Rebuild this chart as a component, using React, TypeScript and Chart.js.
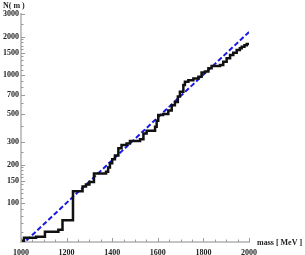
import React, { useEffect, useRef } from "react";
import { Chart, registerables } from "chart.js";

Chart.register(...registerables);

// Step curve: mass where a new level starts, and the cumulative count N(m)
const stepMass = [
  1000, 1013, 1066, 1105, 1164, 1182, 1228, 1270, 1285, 1300, 1320, 1373, 1382, 1390, 1400,
  1412, 1427, 1441, 1463, 1478, 1522, 1537, 1551, 1588, 1595, 1602, 1623, 1646, 1661, 1675,
  1688, 1697, 1712, 1719, 1734, 1756, 1778, 1792, 1807, 1822, 1836, 1873, 1887, 1902, 1917,
  1931, 1946, 1960, 1968, 1980, 1990, 2002,
];
const stepCount = [
  50.8, 53.6, 54.6, 59.7, 62, 73.6, 124, 135, 140, 146, 170, 176, 190, 205, 220,
  236, 268, 284, 292, 305, 315, 350, 367, 395, 440, 487, 496, 530, 582, 617,
  680, 742, 836, 886, 912, 940, 970, 1046, 1065, 1131, 1175, 1200, 1270, 1353, 1433,
  1493, 1570, 1620, 1667, 1710, 1751, 1770,
];

// Exponential fit (straight on the log axis)
const fitMass = [1000, 2000];
const fitCount = [46.6, 2170];

const xTickValues = [1000, 1200, 1400, 1600, 1800, 2000];
const yTickValues = [100, 150, 200, 300, 500, 700, 1000, 1500, 2000, 3000];
const yMinorValues = [
  60, 70, 80, 90, 110, 120, 130, 140, 160, 170, 180, 190, 250, 400, 600, 800, 900,
  1100, 1200, 1300, 1400, 1600, 1700, 1800, 1900, 2500,
];

const FONT = "'Liberation Serif', 'Times New Roman', serif";

export default function App() {
  const ref = useRef<HTMLCanvasElement | null>(null);

  useEffect(() => {
    document.body.style.margin = "0";
    const canvas = ref.current;
    if (!canvas) return;

    const insideTicks = {
      id: "insideTicks",
      afterDatasetsDraw(chart: any) {
        const ctx = chart.ctx;
        const x = chart.scales.x;
        const y = chart.scales.y;
        const area = chart.chartArea;
        ctx.save();
        ctx.strokeStyle = "#9a9a9a";
        ctx.lineWidth = 1;
        for (let m = 1000; m <= 2000; m += 50) {
          const px = Math.round(x.getPixelForValue(m)) + 0.5;
          const major = m % 200 === 0;
          const len = major ? 4 : 2.5;
          ctx.beginPath();
          ctx.moveTo(px, area.bottom);
          ctx.lineTo(px, area.bottom - len);
          ctx.stroke();
        }
        const drawY = (v: number, len: number) => {
          const py = Math.round(y.getPixelForValue(v)) + 0.5;
          ctx.beginPath();
          ctx.moveTo(area.left, py);
          ctx.lineTo(area.left + len, py);
          ctx.stroke();
        };
        yTickValues.forEach((v) => drawY(v, 4));
        yMinorValues.forEach((v) => drawY(v, 2.5));
        ctx.restore();

        ctx.save();
        ctx.fillStyle = "#222";
        ctx.font = `bold 8px ${FONT}`;
        ctx.textBaseline = "middle";
        ctx.textAlign = "left";
        ctx.fillText("N( m )", 3, 6);
        ctx.fillText("mass [ MeV ]", area.right + 8, area.bottom + 1);
        ctx.restore();
      },
    };

    const chart = new Chart(canvas, {
      type: "line",
      data: {
        datasets: [
          {
            label: "N(m)",
            data: stepMass.map((m, i) => ({ x: m, y: stepCount[i] })),
            borderColor: "#111",
            borderWidth: 2.5,
            stepped: "before",
            pointRadius: 0,
            fill: false,
          },
          {
            label: "fit",
            data: fitMass.map((m, i) => ({ x: m, y: fitCount[i] })),
            borderColor: "rgb(25,25,230)",
            borderWidth: 2,
            borderDash: [5, 2.5],
            pointRadius: 0,
            fill: false,
          },
        ],
      },
      plugins: [insideTicks],
      options: {
        responsive: false,
        animation: false,
        layout: { padding: { left: 0, right: 56, top: 14, bottom: 0 } },
        plugins: { legend: { display: false }, tooltip: { enabled: false } },
        scales: {
          x: {
            type: "linear",
            min: 1000,
            max: 2000,
            grid: { display: false, drawTicks: false },
            border: { display: true, color: "#c4c4c4", width: 2 },
            afterBuildTicks: (s: any) => {
              s.ticks = xTickValues.map((v) => ({ value: v }));
            },
            afterFit: (s: any) => {
              s.height = 13;
            },
            ticks: {
              autoSkip: false,
              maxRotation: 0,
              padding: 6,
              color: "#222",
              font: { family: FONT, size: 8, weight: "bold" },
              callback: (v: any) => String(v),
            },
          },
          y: {
            type: "logarithmic",
            min: 49.7,
            max: 3000,
            grid: { display: false, drawTicks: false },
            border: { display: true, color: "#c4c4c4", width: 2 },
            afterBuildTicks: (s: any) => {
              s.ticks = yTickValues.map((v) => ({ value: v }));
            },
            afterFit: (s: any) => {
              s.width = 21;
            },
            ticks: {
              autoSkip: false,
              padding: 2,
              color: "#222",
              font: { family: FONT, size: 8, weight: "bold" },
              callback: (v: any) => String(v),
            },
          },
        },
      },
    } as any);

    return () => chart.destroy();
  }, []);

  return (
    <div style={{ width: 305, height: 255 }}>
      <canvas ref={ref} width={305} height={255} />
    </div>
  );
}
